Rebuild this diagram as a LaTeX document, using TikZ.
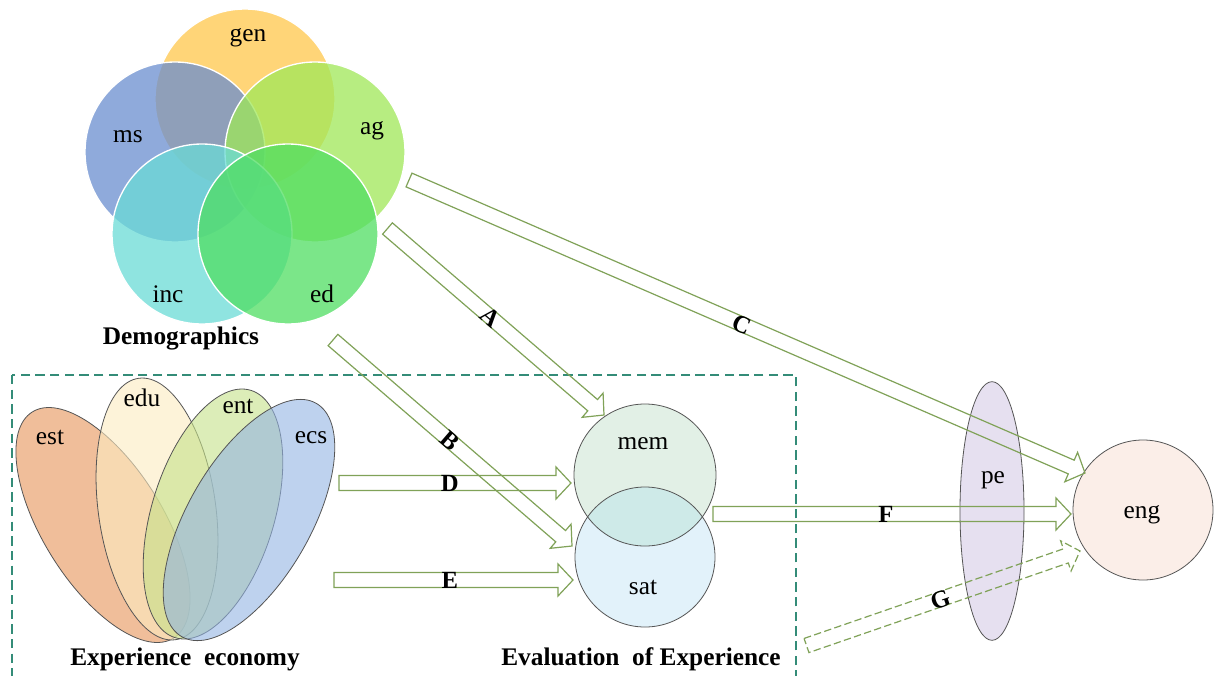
\documentclass[tikz,border=0pt]{standalone}
\usepackage{fontspec}
\setmainfont{Liberation Serif}
\usetikzlibrary{calc,shapes.geometric}
\definecolor{cgen}{RGB}{255,200,75}
\definecolor{cms}{RGB}{106,142,208}
\definecolor{cag}{RGB}{159,232,88}
\definecolor{cinc}{RGB}{106,219,214}
\definecolor{ced}{RGB}{80,222,98}
\definecolor{cest}{RGB}{230,147,88}
\definecolor{cedu}{RGB}{252,235,193}
\definecolor{cent}{RGB}{197,225,137}
\definecolor{cecs}{RGB}{147,180,227}
\definecolor{cmem}{RGB}{226,240,230}
\definecolor{csat}{RGB}{226,242,250}
\definecolor{cov}{RGB}{206,234,232}
\definecolor{cpe}{RGB}{230,224,240}
\definecolor{ceng}{RGB}{251,238,232}
\definecolor{agreen}{RGB}{128,162,88}
\definecolor{boxteal}{RGB}{52,140,120}
\definecolor{olinegray}{RGB}{85,85,85}
\tikzset{
  demo/.style={circle,minimum size=135pt,inner sep=0pt,draw=white,line width=1pt,fill opacity=0.75},
  petal/.style={ellipse,inner sep=0pt,draw=olinegray,line width=0.6pt,fill opacity=0.6},
  lbl/.style={font=\fontsize{19}{22}\selectfont,anchor=base,inner sep=0pt},
  ttl/.style={font=\fontsize{19}{22}\selectfont\bfseries,anchor=base,inner sep=0pt},
  alab/.style={font=\fontsize{18.5}{22}\selectfont\bfseries,inner sep=0pt,sloped},
  barrow/.style={draw=agreen,line width=0.9pt,line join=miter},
  dbarrow/.style={barrow,dash pattern=on 5.5pt off 2.5pt},
  evline/.style={draw=olinegray,line width=0.6pt},
  dbox/.style={draw=boxteal,line width=0.9pt,dash pattern=on 7pt off 4pt}
}
\newcommand\blockarrow[3]{%
  \coordinate (#2h) at ($(#3)!11.25pt!(#2)$);
  \draw[#1] ($(#2)!5.6pt!90:(#3)$) -- ($(#2h)!5.6pt!90:(#3)$) -- ($(#2h)!12pt!90:(#3)$) -- (#3)
    -- ($(#2h)!12pt!-90:(#3)$) -- ($(#2h)!5.6pt!-90:(#3)$) -- ($(#2)!5.6pt!-90:(#3)$) -- cycle;
}
\begin{document}
\begin{tikzpicture}[x=0.75pt,y=-0.75pt]
\clip (0,0) rectangle (1214,675);
\fill[white] (0,0) rectangle (1214,675);

% ---------- Demographics ----------
\node[demo,fill=cgen] (gen) at (245,99) {};
\node[demo,fill=cms] (ms) at (175,152) {};
\node[demo,fill=cag] (ag) at (315,152) {};
\node[demo,fill=cinc] (inc) at (202,234) {};
\node[demo,fill=ced] (ed) at (288,234) {};
\node[lbl] (tgen) at (248,41) {gen};
\node[lbl] (tms) at (128,142) {ms};
\node[lbl] (tag) at (372,134) {ag};
\node[lbl] (tinc) at (168,302) {inc};
\node[lbl] (ted) at (322,302) {ed};
\node[ttl] (tdemo) at (181,344) {Demographics};

% ---------- dashed box ----------
\draw[dbox] (12,375) rectangle (796,700);

% ---------- Experience economy ----------
\node[petal,fill=cest,minimum width=200pt,minimum height=90pt,rotate=-58] (est) at (103,525) {};
\node[petal,fill=cedu,minimum width=198pt,minimum height=88pt,rotate=-82] (edu) at (157,509) {};
\node[petal,fill=cent,minimum width=194pt,minimum height=92pt,rotate=73] (ent) at (213,514) {};
\node[petal,fill=cecs,minimum width=202pt,minimum height=92pt,rotate=60] (ecs) at (249,520) {};
\node[lbl] (test) at (50,444) {est};
\node[lbl] (tedu) at (142,406) {edu};
\node[lbl] (tent) at (238,413) {ent};
\node[lbl] (tecs) at (311,443) {ecs};
\node[ttl] (texp) at (185,665) {Experience\ \ economy};

% ---------- Evaluation ----------
\node[circle,minimum size=106.5pt,inner sep=0pt,fill=cmem] (mem) at (645,475) {};
\node[circle,minimum size=105pt,inner sep=0pt,fill=csat] (sat) at (645,557) {};
\begin{scope}
  \clip (mem.center) circle (53.25pt);
  \fill[cov] (sat.center) circle (52.5pt);
\end{scope}
\draw[evline] (mem.center) circle (53.25pt);
\draw[evline] (sat.center) circle (52.5pt);
\node[lbl] (tmem) at (643,449) {mem};
\node[lbl] (tsat) at (643,594) {sat};
\node[ttl] (teval) at (641,665) {Evaluation\ \ of Experience};

% ---------- pe and eng ----------
\node[ellipse,inner sep=0pt,minimum width=48pt,minimum height=194pt,fill=cpe,draw=olinegray,line width=0.6pt] (pe) at (992,511) {};
\node[lbl] (tpe) at (993,483) {pe};
\node[circle,inner sep=0pt,minimum size=105pt,fill=ceng,draw=olinegray,line width=0.6pt] (eng) at (1143,510) {};
\node[lbl] (teng) at (1142,518) {eng};

% ---------- arrows ----------
\coordinate (aS) at (387.5,228.5); \coordinate (aE) at (604,415);
\coordinate (bS) at (333,340);     \coordinate (bE) at (572,546);
\coordinate (cS) at (409,180);     \coordinate (cE) at (1085,473);
\coordinate (dS) at (339,483);     \coordinate (dE) at (571,483);
\coordinate (eS) at (334,580);     \coordinate (eE) at (573,580);
\coordinate (fS) at (713,514);     \coordinate (fE) at (1071,514);
\coordinate (gS) at (806.5,645.5); \coordinate (gE) at (1080,551);

\blockarrow{barrow}{aS}{aE}
\blockarrow{barrow}{bS}{bE}
\blockarrow{barrow}{cS}{cE}
\blockarrow{barrow}{dS}{dE}
\blockarrow{barrow}{eS}{eE}
\blockarrow{barrow}{fS}{fE}
\blockarrow{dbarrow}{gS}{gE}

\path (aS) -- node[alab,pos=0.474] (la) {A} (aE);
\path (bS) -- node[alab,pos=0.49] (lb) {B} (bE);
\path (cS) -- node[alab,pos=0.493] (lc) {C} (cE);
\path (dS) -- node[alab,pos=0.478] (ld) {D} (dE);
\path (eS) -- node[alab,pos=0.485] (le) {E} (eE);
\path (fS) -- node[alab,pos=0.483] (lf) {F} (fE);
\path (gS) -- node[alab,pos=0.489] (lg) {G} (gE);
\end{tikzpicture}
\end{document}
